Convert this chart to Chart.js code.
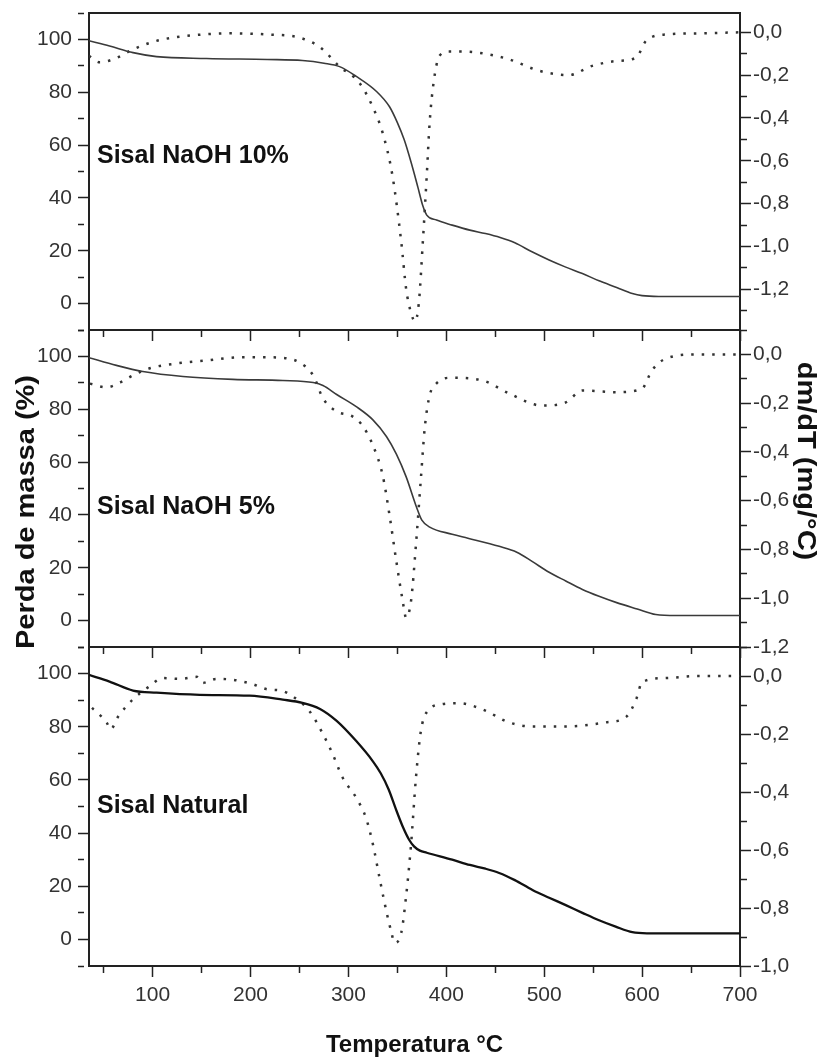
<!DOCTYPE html>
<html>
<head>
<meta charset="utf-8">
<title>TG / DTG sisal</title>
<script src="https://cdn.jsdelivr.net/npm/chart.js@4"></script>
<style>
  html, body { margin: 0; padding: 0; background: #fff; overflow: hidden; }
  #wrap { position: relative; width: 818px; height: 1063px; }
  #wrap canvas { position: absolute; left: 0; }
</style>
</head>
<body>
<div id="wrap">
  <canvas id="naoh10" width="818" height="345" style="top:0px"></canvas>
  <canvas id="naoh5" width="818" height="352" style="top:310px"></canvas>
  <canvas id="natural" width="818" height="436" style="top:627px"></canvas>
</div>
<script>
// Sisal NaOH 10% - mass loss (%) and dm/dT (mg/°C)
const tempTg10 = [35, 56, 80, 104, 155, 217, 253, 275, 291, 308, 329, 342, 350, 357, 364, 371, 376, 380, 390, 406, 424, 440, 455, 470, 488, 505, 522, 539, 556, 574, 590, 600, 617, 700];
const massTg10 = [99.5, 97.5, 95, 93.5, 92.8, 92.4, 92.0, 91.0, 89.7, 86, 80.2, 74.5, 68.5, 62, 53.5, 44, 37, 33.5, 31.6, 29.7, 27.8, 26.5, 25, 23, 19.5, 16.5, 13.8, 11.4, 8.6, 6.1, 3.8, 3, 2.7, 2.7];
const tempDtg10 = [35, 46, 63, 80, 104, 135, 182, 216, 250, 271, 291, 311, 325, 335, 345, 354, 359, 364, 368, 372, 376, 380, 383, 387, 393, 403, 416, 437, 464, 495, 525, 549, 574, 594, 604, 625, 658, 700];
const dtg10 = [-0.11, -0.14, -0.12, -0.08, -0.04, -0.017, -0.005, -0.01, -0.025, -0.07, -0.16, -0.235, -0.35, -0.47, -0.67, -0.98, -1.2, -1.31, -1.35, -1.26, -0.98, -0.67, -0.42, -0.235, -0.11, -0.09, -0.09, -0.098, -0.126, -0.18, -0.2, -0.157, -0.134, -0.118, -0.04, -0.01, -0.005, 0];

// Sisal NaOH 5%
const tempTg5 = [35, 63, 90, 131, 182, 233, 264, 274, 288, 308, 325, 339, 349, 359, 369.5, 375, 383, 406, 422, 454, 472, 488, 505, 522, 539, 556, 574, 595, 614, 635, 700];
const massTg5 = [99.5, 96.6, 94.3, 92.4, 91.3, 90.9, 90.1, 89, 85.6, 81, 76, 69.6, 63, 54.4, 43, 38, 35.4, 32.7, 31.2, 28.1, 25.9, 22.3, 18.3, 15, 11.8, 9.2, 6.8, 4.4, 2.3, 1.9, 1.9];
const tempDtg5 = [36, 53, 67, 80, 97, 125, 155, 189, 216, 237, 250, 264, 274, 288, 304, 314, 325, 335, 342, 349, 355, 359, 364, 369, 374, 378, 383, 390, 403, 437, 464, 498, 522, 539, 574, 600, 610, 625, 658, 700];
const dtg5 = [-0.12, -0.135, -0.115, -0.086, -0.057, -0.037, -0.025, -0.012, -0.012, -0.016, -0.033, -0.086, -0.18, -0.234, -0.254, -0.29, -0.373, -0.496, -0.66, -0.85, -1.0, -1.08, -1.01, -0.78, -0.51, -0.30, -0.168, -0.119, -0.096, -0.107, -0.16, -0.21, -0.197, -0.148, -0.155, -0.14, -0.066, -0.016, 0, 0];

// Sisal Natural
const tempTgNat = [35, 56, 80, 104, 148, 199, 233, 253, 271, 288, 308, 325, 333, 341, 349, 356, 362, 367, 373, 380, 406, 424, 440, 454, 470, 488, 505, 522, 539, 556, 573, 590, 605, 617, 700];
const massTgNat = [99.5, 97, 93.6, 92.8, 92, 91.7, 90.2, 89, 86.7, 82.2, 74.6, 67, 62.5, 56.5, 48.5, 42, 37.5, 35, 33.4, 32.6, 30, 28, 26.6, 25, 22.3, 18.6, 15.7, 12.9, 10, 7.2, 4.8, 2.7, 2.3, 2.3, 2.3];
const tempDtgNat = [38, 43, 53, 57, 65, 80, 97, 110, 128, 145, 151, 165, 182, 202, 216, 233, 243, 260, 274, 284, 294, 308, 318, 325, 332, 339, 344, 347, 354, 359, 364, 369, 374, 381, 396, 413, 437, 464, 488, 522, 563, 584, 594, 600, 625, 658, 700];
const dtgNat = [-0.11, -0.125, -0.16, -0.184, -0.139, -0.08, -0.035, -0.007, -0.01, -0.003, -0.024, -0.01, -0.013, -0.028, -0.045, -0.052, -0.07, -0.12, -0.2, -0.27, -0.35, -0.42, -0.49, -0.58, -0.70, -0.815, -0.885, -0.92, -0.885, -0.757, -0.58, -0.35, -0.19, -0.12, -0.097, -0.094, -0.115, -0.16, -0.174, -0.174, -0.16, -0.14, -0.08, -0.021, -0.007, 0, 0];

const ink = '#222';
const fontFamily = "'Liberation Sans', Arial, Helvetica, sans-serif";
Chart.defaults.font.family = fontFamily;
Chart.defaults.color = '#333';

const pairs = (xs, ys) => xs.map((x, i) => ({ x: x, y: ys[i] }));

// minor ticks are drawn as a short dash of the normal tick mark
const minorDash = step => ctx => (Math.round(ctx.tick.value / step) % 2 === 0 ? [] : [6, 40]);

const tempLabel = v => (v % 100 === 0 ? String(v) : '');
const massLabel = v => (v >= 0 && v <= 100 && v % 20 === 0 ? String(v) : '');
const dtgLabel = v => {
  const k = Math.round(v * 10);
  return k % 2 === 0 ? (k / 10).toFixed(1).replace('.', ',') : '';
};

// free text drawn on top of the chart (sample names, side titles)
function textLayer(items) {
  return {
    id: 'textLayer',
    afterDraw(chart) {
      const ctx = chart.ctx;
      items.forEach(t => {
        const inPanel = t.value !== undefined;
        const x = inPanel ? chart.chartArea.left + 8 : t.x;
        const y = inPanel ? chart.scales.yMass.getPixelForValue(t.value) : t.y;
        ctx.save();
        ctx.translate(x, y);
        ctx.rotate((t.angle || 0) * Math.PI / 180);
        ctx.scale(t.stretch || 1, 1);
        ctx.font = 'bold 25px ' + fontFamily;
        ctx.fillStyle = '#111';
        ctx.textAlign = inPanel ? 'left' : 'center';
        ctx.textBaseline = 'middle';
        ctx.fillText(t.text, 0, 0);
        ctx.restore();
      });
    }
  };
}

function panel(id, o) {
  const scales = {
    x: {
      type: 'linear',
      position: 'bottom',
      min: 35,
      max: 700,
      afterFit: s => { s.height = o.xHeight; s.paddingLeft = 0; s.paddingRight = 0; },
      border: { color: ink, width: 2 },
      grid: { drawOnChartArea: false, tickLength: 11, tickWidth: 1.5, tickColor: ink, tickBorderDash: minorDash(50) },
      ticks: { display: o.showTemp, stepSize: 50, includeBounds: false, autoSkip: false, maxRotation: 0, padding: 6, font: { size: 21 }, callback: tempLabel },
      title: { display: o.showTemp, text: 'Temperatura °C', color: '#111', font: { size: 24, weight: 'bold' }, padding: { top: 0, bottom: 3 } }
    },
    yMass: {
      position: 'left',
      min: -10,
      max: 110,
      afterFit: s => { s.width = 89; s.paddingTop = 0; s.paddingBottom = 0; },
      border: { color: ink, width: 2 },
      grid: { drawOnChartArea: false, tickLength: 11, tickWidth: 1.5, tickColor: ink, tickBorderDash: minorDash(10) },
      ticks: { stepSize: 10, includeBounds: false, autoSkip: false, padding: 6, font: { size: 21 }, callback: massLabel }
    },
    yDtg: {
      position: 'right',
      min: o.dtgMin,
      max: o.dtgMax,
      afterFit: s => { s.width = 78; s.paddingTop = 0; s.paddingBottom = 0; },
      border: { color: ink, width: 2 },
      grid: { drawOnChartArea: false, tickLength: 11, tickWidth: 1.5, tickColor: ink, tickBorderDash: minorDash(0.1) },
      ticks: { stepSize: 0.1, includeBounds: false, autoSkip: false, padding: 2, font: { size: 21 }, callback: dtgLabel }
    }
  };
  if (o.topBorder) {
    scales.xTop = {
      type: 'linear',
      position: 'top',
      min: 35,
      max: 700,
      afterFit: s => { s.height = 0; },
      border: { color: ink, width: 2 },
      grid: { drawOnChartArea: false, drawTicks: false },
      ticks: { display: false }
    };
  }

  return new Chart(document.getElementById(id), {
    type: 'line',
    data: {
      datasets: [{
        label: 'Perda de massa',
        data: pairs(o.tgT, o.tg),
        yAxisID: 'yMass',
        borderColor: o.tgColor,
        borderWidth: o.tgWidth,
        pointRadius: 0,
        cubicInterpolationMode: 'monotone'
      }, {
        label: 'dm/dT',
        data: pairs(o.dtgT, o.dtg),
        yAxisID: 'yDtg',
        borderColor: '#333',
        borderWidth: 2.5,
        borderDash: [2.5, 8],
        pointRadius: 0,
        cubicInterpolationMode: 'monotone'
      }]
    },
    options: {
      responsive: false,
      animation: false,
      devicePixelRatio: 1,
      events: [],
      layout: { padding: o.padding },
      plugins: { legend: { display: false }, tooltip: { enabled: false } },
      scales: scales
    },
    plugins: [textLayer(o.texts)]
  });
}

panel('naoh10', {
  tgT: tempTg10, tg: massTg10, dtgT: tempDtg10, dtg: dtg10,
  dtgMin: -1.39, dtgMax: 0.09,
  tgColor: '#3a3a3a', tgWidth: 1.6,
  showTemp: false, xHeight: 11, topBorder: true,
  padding: { top: 13, bottom: 4, left: 0, right: 0 },
  texts: [{ text: 'Sisal NaOH 10%', value: 56 }]
});

panel('naoh5', {
  tgT: tempTg5, tg: massTg5, dtgT: tempDtg5, dtg: dtg5,
  dtgMin: -1.2, dtgMax: 0.1,
  tgColor: '#3a3a3a', tgWidth: 1.6,
  showTemp: false, xHeight: 11, topBorder: false,
  padding: { top: 20, bottom: 4, left: 0, right: 0 },
  texts: [
    { text: 'Sisal NaOH 5%', value: 43 },
    { text: 'Perda de massa (%)', x: 27, y: 202, angle: -90, stretch: 1.16 },
    { text: 'dm/dT (mg/°C)', x: 805, y: 151, angle: 90, stretch: 1.16 }
  ]
});

panel('natural', {
  tgT: tempTgNat, tg: massTgNat, dtgT: tempDtgNat, dtg: dtgNat,
  dtgMin: -1.0, dtgMax: 0.1,
  tgColor: '#111', tgWidth: 2.3,
  showTemp: true, xHeight: 97, topBorder: false,
  padding: { top: 20, bottom: 0, left: 0, right: 0 },
  texts: [{ text: 'Sisal Natural', value: 50 }]
});
</script>
</body>
</html>
